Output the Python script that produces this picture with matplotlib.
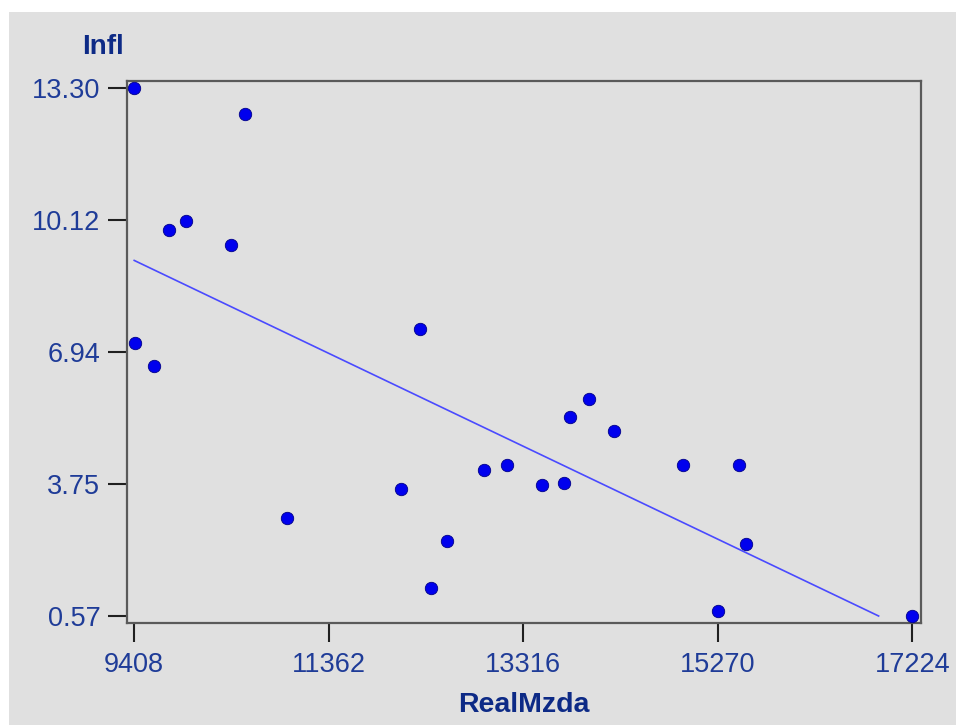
import numpy as np
import matplotlib
matplotlib.use("Agg")
import matplotlib.pyplot as plt
from matplotlib.patches import Rectangle

# ---- data ----
real_mzda = [9408, 10517, 9757, 9931, 10384, 9415, 9606, 10947, 12284, 12090,
             12388, 12546, 12923, 13149, 13508, 13725, 13786, 13977, 14228,
             14926, 15271, 15489, 15550, 17224]
infl = [13.30, 12.68, 9.87, 10.09, 9.52, 7.15, 6.60, 2.94, 7.48, 3.63,
        1.24, 2.38, 4.10, 4.21, 3.73, 3.78, 5.37, 5.80, 5.03,
        4.22, 0.68, 4.22, 2.30, 0.57]
x_ticks = [9408, 11362, 13316, 15270, 17224]
x_tick_labels = ["9408", "11362", "13316", "15270", "17224"]
y_ticks = [0.57, 3.75, 6.94, 10.12, 13.30]
y_tick_labels = ["0.57", "3.75", "6.94", "10.12", "13.30"]
x_label = "RealMzda"
y_label = "Infl"

x = np.array(real_mzda, dtype=float)
y = np.array(infl, dtype=float)

W, H = 956, 725
fig = plt.figure(figsize=(W / 100, H / 100), dpi=100, facecolor="white")
bg = "#e0e0e0"
fig.patches.append(Rectangle((9 / W, 0), 1 - 9 / W, 1 - 12 / H,
                             transform=fig.transFigure, facecolor=bg,
                             edgecolor="none", zorder=-10))

left, right, top, bottom = 126.7, 920.7, 81.0, 623.3
ax = fig.add_axes([left / W, 1 - bottom / H, (right - left) / W, (bottom - top) / H])
ax.set_facecolor(bg)

# axis limits: data range with small margins
xpx = (x_ticks[-1] - x_ticks[0]) / (912 - 134)
ypx = (y_ticks[-1] - y_ticks[0]) / (616 - 88)
ax.set_xlim(x_ticks[0] - 7.5 * xpx, x_ticks[-1] + 8.5 * xpx)
ax.set_ylim(y_ticks[0] - 7.3 * ypx, y_ticks[-1] + 7.0 * ypx)

# regression line, clipped at the minimum y tick
m, b = np.polyfit(x, y, 1)
x_end = min(x.max(), (y_ticks[0] - b) / m)
xs = np.array([x.min(), x_end])
ax.plot(xs, m * xs + b, color="#4a4aff", lw=1.2, zorder=2)

ax.scatter(x, y, s=80, color="#0000ee", edgecolors="#000088", linewidths=0.6, zorder=3)

for s in ax.spines.values():
    s.set_color("#5a5a5a")
    s.set_linewidth(1.6)

font = "Liberation Sans"
tick_color = "#1f3c98"
label_color = "#0d2a86"
ax.set_xticks(x_ticks)
ax.set_xticklabels(x_tick_labels, fontfamily=font, fontsize=19.5, color=tick_color)
ax.set_yticks(y_ticks)
ax.set_yticklabels(y_tick_labels, fontfamily=font, fontsize=19.5, color=tick_color)
ax.tick_params(axis="both", direction="out", length=14, width=1.5, color="#202020")
ax.tick_params(axis="x", pad=7)
ax.tick_params(axis="y", pad=5)

fig.text(82 / W, 1 - 54 / H, y_label, fontfamily=font, fontweight="bold",
         fontsize=20, color=label_color, ha="left", va="baseline")
fig.text((left + right) / 2 / W, 1 - 712 / H, x_label, fontfamily=font, fontweight="bold",
         fontsize=20.5, color=label_color, ha="center", va="baseline")

fig.savefig("out.png", dpi=100, facecolor=fig.get_facecolor())
